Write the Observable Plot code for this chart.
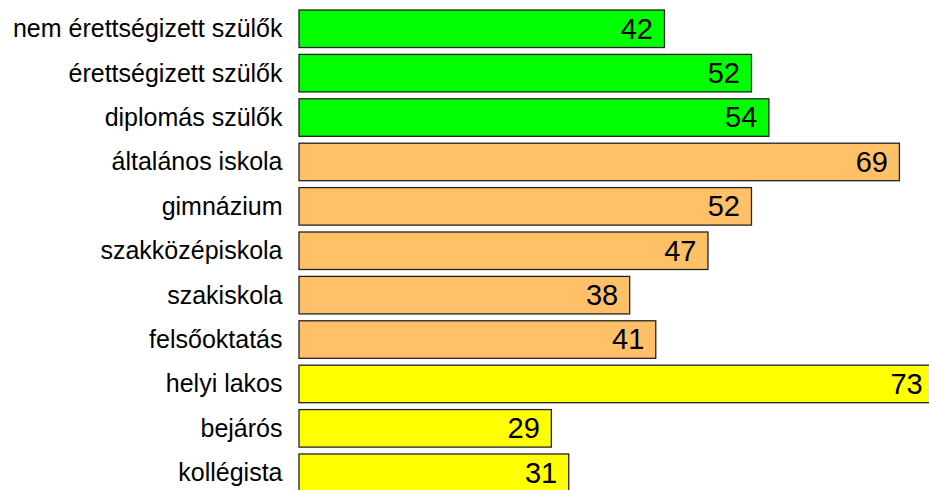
<!DOCTYPE html>
<html>
<head>
<meta charset="utf-8">
<script src="https://cdn.jsdelivr.net/npm/d3@7"></script>
<script src="https://cdn.jsdelivr.net/npm/@observablehq/plot@0.6"></script>
<style>
  html, body { margin: 0; padding: 0; background: #fff; overflow: hidden; }
  #chart svg { display: block; }
</style>
</head>
<body>
<div id="chart"></div>
<script>
// Categories, top to bottom
const categories = [
  "nem érettségizett szülők",
  "érettségizett szülők",
  "diplomás szülők",
  "általános iskola",
  "gimnázium",
  "szakközépiskola",
  "szakiskola",
  "felsőoktatás",
  "helyi lakos",
  "bejárós",
  "kollégista"
];
// Values shown on each bar
const values = [42, 52, 54, 69, 52, 47, 38, 41, 73, 29, 31];
// Group of each category (drives the fill colour)
const groups = [
  "szülők", "szülők", "szülők",
  "iskola", "iskola", "iskola", "iskola", "iskola",
  "lakhely", "lakhely", "lakhely"
];
const groupNames = ["szülők", "iskola", "lakhely"];
const groupColors = ["#00ff00", "#ffc068", "#ffff00"];

const data = categories.map((c, i) => ({ category: c, value: values[i], group: groups[i] }));

const chart = Plot.plot({
  width: 929,
  height: 490,
  marginLeft: 299,
  marginRight: 0,
  marginTop: 10,
  marginBottom: -1.5,
  style: { fontFamily: "'Liberation Sans', Arial, sans-serif", background: "#fff", overflow: "hidden" },
  x: { domain: [0, 72.4], axis: null },
  y: { domain: categories, paddingInner: 0.155, paddingOuter: 0, align: 0, round: false, label: null },
  color: { domain: groupNames, range: groupColors },
  marks: [
    Plot.barX(data, {
      y: "category",
      x: "value",
      fill: "group",
      stroke: "#222",
      strokeWidth: 1.3
    }),
    Plot.text(data, {
      y: "category",
      x: "value",
      text: d => String(d.value),
      textAnchor: "end",
      dx: -12,
      fontSize: 29,
      fill: "#000"
    }),
    Plot.axisY({
      tickSize: 0,
      tickPadding: 17,
      fontSize: 25,
      fill: "#000",
      label: null
    })
  ]
});

document.getElementById("chart").appendChild(chart);
</script>
</body>
</html>
